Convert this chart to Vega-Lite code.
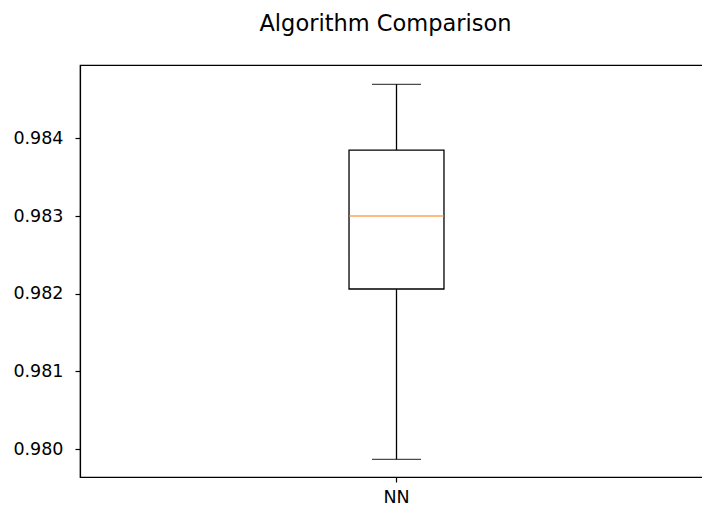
{
  "$schema": "https://vega.github.io/schema/vega-lite/v6.json",
  "autosize": {"type": "none"},
  "padding": {"left": 80, "top": 65, "right": 0, "bottom": 31},
  "width": 633,
  "height": 412,
  "background": "white",
  "title": {"text": "Algorithm Comparison", "fontSize": 22.5, "font": "DejaVu Sans", "fontWeight": "normal", "color": "black", "offset": 30, "dx": -11},
  "config": {
    "view": {"stroke": "black", "strokeWidth": 1.2},
    "axis": {"labelFont": "DejaVu Sans", "labelFontSize": 17.5, "labelColor": "black", "tickColor": "black", "domainColor": "black", "grid": false, "title": null, "tickSize": 5, "labelPadding": 6, "domainWidth": 1.2, "tickWidth": 1.2},
    "axisY": {"labelPadding": 12}
  },
  "data": {"values": [{"algo": "NN", "min": 0.979867, "q1": 0.98206, "median": 0.983, "q3": 0.983849, "max": 0.984695}]},
  "encoding": {
    "x": {"field": "algo", "type": "nominal", "scale": {"paddingInner": 0, "paddingOuter": 0}, "axis": {"labelAngle": 0}}
  },
  "layer": [
    {"mark": {"type": "rule", "color": "black", "strokeWidth": 1.3},
     "encoding": {"y": {"field": "min", "type": "quantitative", "scale": {"domain": [0.97964, 0.984944], "nice": false, "zero": false}, "axis": {"values": [0.980, 0.981, 0.982, 0.983, 0.984], "format": ".3f"}}, "y2": {"field": "max"}}},
    {"mark": {"type": "bar", "fill": "white", "stroke": "black", "strokeWidth": 1.3, "width": {"band": 0.15}},
     "encoding": {"y": {"field": "q1", "type": "quantitative"}, "y2": {"field": "q3"}}},
    {"mark": {"type": "tick", "color": "#ff7f0e", "size": 95, "thickness": 1.4},
     "encoding": {"y": {"field": "median", "type": "quantitative"}}},
    {"mark": {"type": "tick", "color": "black", "size": 49, "thickness": 1.3},
     "encoding": {"y": {"field": "min", "type": "quantitative"}}},
    {"mark": {"type": "tick", "color": "black", "size": 49, "thickness": 1.3},
     "encoding": {"y": {"field": "max", "type": "quantitative"}}}
  ]
}
